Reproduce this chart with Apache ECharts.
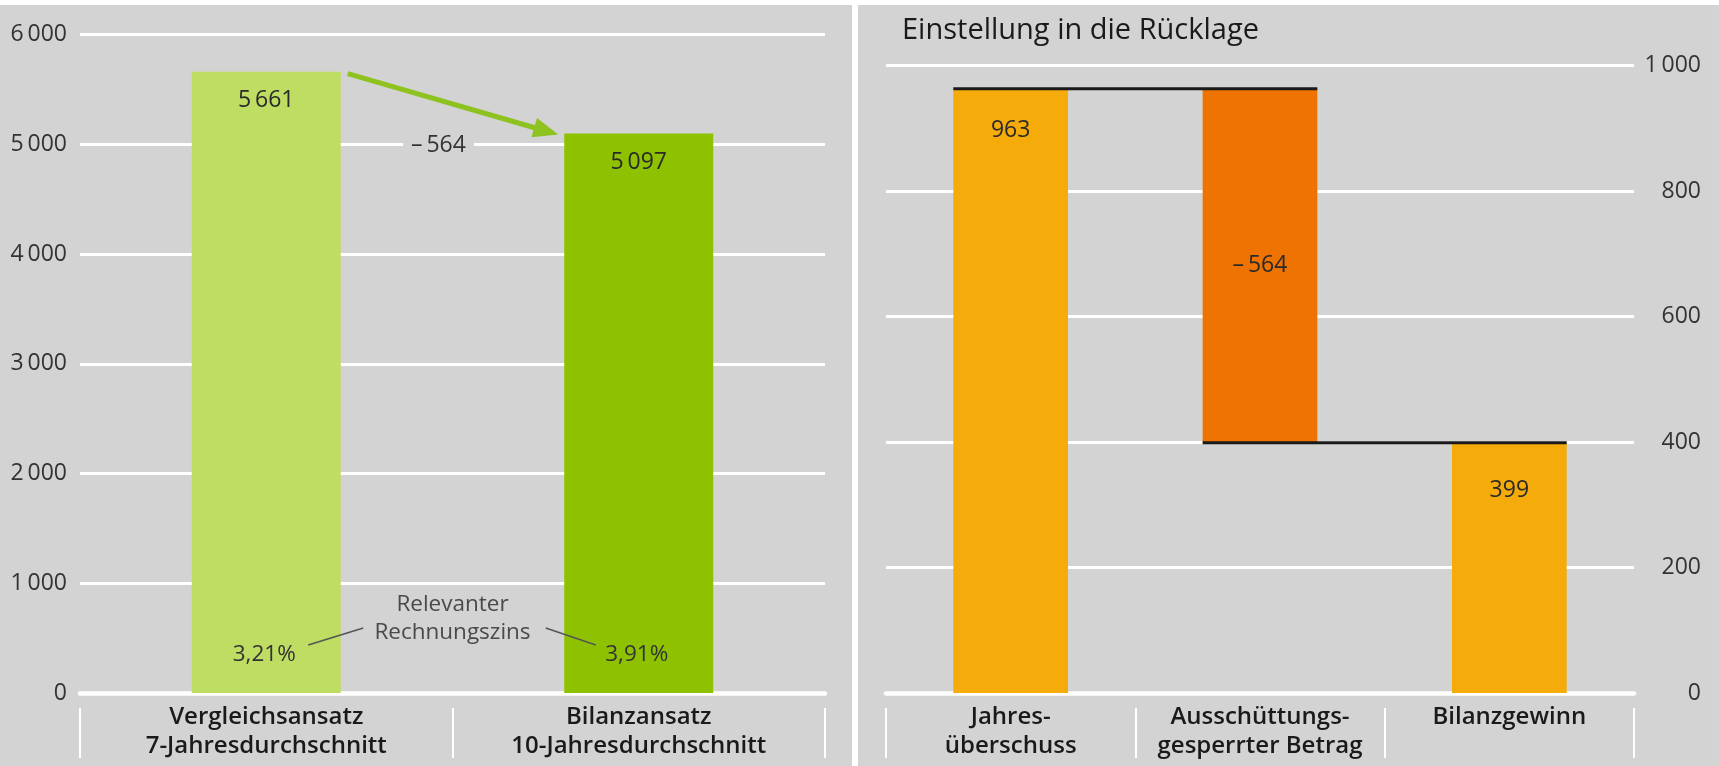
<!DOCTYPE html>
<html>
<head>
<meta charset="utf-8">
<script src="https://cdn.jsdelivr.net/npm/echarts@6/dist/echarts.min.js"></script>
<style>
html,body{margin:0;padding:0;background:#fff;}
#c{width:1719px;height:766px;}
</style>
</head>
<body>
<div id="c"></div>
<script>
// ---- data ----
const leftCategories = ['Vergleichsansatz\n7-Jahresdurchschnitt', 'Bilanzansatz\n10-Jahresdurchschnitt'];
const leftValues = [5661, 5097];
const leftRates = ['3,21%', '3,91%'];
const leftRateNote = ['Relevanter', 'Rechnungszins'];
const leftTicks = [0, 6000, 1000];

const rightTitle = 'Einstellung in die Rücklage';
const rightCategories = ['Jahres-\nüberschuss', 'Ausschüttungs-\ngesperrter Betrag', 'Bilanzgewinn'];
const rightValues = [963, -564, 399];
const rightKinds = ['start', 'delta', 'total'];
const rightTicks = [0, 1000, 200];

// ---- helpers ----
const FONT = 'Open Sans';
const BG = '#d3d3d3';
const fmt = v => String(v).replace(/\B(?=(\d{3})+(?!\d))/g, '\u2009');
const fmtSigned = v => v < 0 ? '\u2013\u2009' + fmt(-v) : fmt(v);

const leftDiff = leftValues[1] - leftValues[0];

// waterfall computation
let running = 0;
const wfBase = [], wfHeight = [], wfLevels = [];
rightValues.forEach((v, i) => {
  if (rightKinds[i] === 'total') {
    wfBase.push(0); wfHeight.push(running);
  } else if (v >= 0) {
    wfBase.push(running); wfHeight.push(v); running += v;
  } else {
    wfBase.push(running + v); wfHeight.push(-v); running += v;
  }
  wfLevels.push(running);
});
const wfColors = rightValues.map((v, i) => rightKinds[i] === 'delta' ? '#ef7300' : '#f5ab0a');

const LBW = 0.40, RBW = 0.46;

const chart = echarts.init(document.getElementById('c'));

const catAxisLabel = {
  fontFamily: FONT, fontSize: 24, fontWeight: 600, color: '#1a1a1a',
  lineHeight: 29, margin: 10, interval: 0
};
const valAxisLabel = { fontFamily: FONT, fontSize: 23, color: '#333' };

const option = {
  backgroundColor: BG,
  animation: false,
  title: {
    text: rightTitle, left: 897, top: 11,
    textStyle: { fontFamily: FONT, fontSize: 29, fontWeight: 'normal', color: '#1a1a1a' }
  },
  graphic: [
    { type: 'rect', shape: { x: 0, y: 0, width: 1719, height: 5 }, style: { fill: '#fff' }, z: 100 },
    { type: 'rect', shape: { x: 852, y: 0, width: 6, height: 766 }, style: { fill: '#fff' }, z: 100 }
  ],
  grid: [
    { left: 80, right: 1719 - 825, top: 34.5, bottom: 73 },
    { left: 886, right: 1719 - 1634, top: 65.5, bottom: 73 }
  ],
  xAxis: [
    { type: 'category', gridIndex: 0, data: leftCategories,
      axisLine: { lineStyle: { color: '#fff', width: 4.5 } },
      axisTick: { show: false }, axisLabel: catAxisLabel },
    { type: 'category', gridIndex: 0, data: leftCategories, position: 'bottom', offset: 15,
      axisLine: { show: false },
      axisTick: { show: true, length: 50, lineStyle: { color: '#fff', width: 2 } },
      axisLabel: { show: false } },
    { type: 'category', gridIndex: 1, data: rightCategories,
      axisLine: { lineStyle: { color: '#fff', width: 4.5 } },
      axisTick: { show: false }, axisLabel: catAxisLabel },
    { type: 'category', gridIndex: 1, data: rightCategories, position: 'bottom', offset: 15,
      axisLine: { show: false },
      axisTick: { show: true, length: 50, lineStyle: { color: '#fff', width: 2 } },
      axisLabel: { show: false } }
  ],
  yAxis: [
    { type: 'value', gridIndex: 0, min: leftTicks[0], max: leftTicks[1], interval: leftTicks[2],
      axisLine: { show: false }, axisTick: { show: false },
      axisLabel: Object.assign({ margin: 13, formatter: v => fmt(v) }, valAxisLabel),
      splitLine: { lineStyle: { color: '#fff', width: 3 } } },
    { type: 'value', gridIndex: 1, position: 'right', min: rightTicks[0], max: rightTicks[1], interval: rightTicks[2],
      axisLine: { show: false }, axisTick: { show: false },
      axisLabel: Object.assign({ margin: 67, align: 'right', formatter: v => fmt(v) }, valAxisLabel),
      splitLine: { lineStyle: { color: '#fff', width: 3 } } }
  ],
  series: [
    // left bars
    { type: 'bar', xAxisIndex: 0, yAxisIndex: 0, barWidth: (LBW * 100) + '%',
      data: leftValues.map((v, i) => ({ value: v, itemStyle: { color: i === 0 ? '#bedd62' : '#8ec200' } })),
      label: { show: true, position: 'insideTop', distance: 17, formatter: p => fmt(p.value),
        fontFamily: FONT, fontSize: 23, color: '#2a2a2a' } },
    // arrow + difference label
    { type: 'custom', xAxisIndex: 0, yAxisIndex: 0, data: [[0, leftValues[0]]], z: 5, silent: true,
      renderItem: (params, api) => {
        const p0 = api.coord([0, leftValues[0]]);
        const p1 = api.coord([1, leftValues[1]]);
        const hb = api.size([1, 0])[0] * LBW / 2;
        const s = [p0[0] + hb + 7, p0[1] + 2];
        const e = [p1[0] - hb - 6, p1[1] + 1];
        const dx = e[0] - s[0], dy = e[1] - s[1], L = Math.hypot(dx, dy);
        const ux = dx / L, uy = dy / L, nx = -uy, ny = ux;
        const hl = 25, hw = 10;
        const b = [e[0] - ux * hl, e[1] - uy * hl];
        const lineEnd = [e[0] - ux * (hl - 4), e[1] - uy * (hl - 4)];
        const midX = (p0[0] + p1[0]) / 2 - 14;
        const gy = api.coord([0, 5000])[1];
        return { type: 'group', children: [
          { type: 'line', shape: { x1: s[0], y1: s[1], x2: lineEnd[0], y2: lineEnd[1] },
            style: { stroke: '#8dc21f', lineWidth: 5 } },
          { type: 'polygon', shape: { points: [e, [b[0] + nx * hw, b[1] + ny * hw], [b[0] - nx * hw, b[1] - ny * hw]] },
            style: { fill: '#8dc21f' } },
          { type: 'text', x: midX, y: gy + 1,
            style: { text: fmtSigned(leftDiff), fontFamily: FONT, fontSize: 23, fill: '#333',
              align: 'center', verticalAlign: 'middle', backgroundColor: BG, padding: [0, 8] } }
        ] };
      } },
    // rate annotations
    { type: 'custom', xAxisIndex: 0, yAxisIndex: 0, data: [[0, 0]], z: 5, silent: true,
      renderItem: (params, api) => {
        const c0 = api.coord([0, 0]);
        const c1 = api.coord([1, 0]);
        const zy = c0[1];
        const mid = (c0[0] + c1[0]) / 2;
        const txt = (t, x, y, col) => ({ type: 'text', x: x, y: y,
          style: { text: t, fontFamily: FONT, fontSize: 22.5, fill: col, align: 'center', verticalAlign: 'middle' } });
        const ln = (x1, y1, x2, y2) => ({ type: 'line', shape: { x1, y1, x2, y2 }, style: { stroke: '#555', lineWidth: 1.5 } });
        return { type: 'group', children: [
          txt(leftRates[0], c0[0] - 2, zy - 38, '#333'),
          txt(leftRates[1], c1[0] - 2, zy - 38, '#333'),
          txt(leftRateNote[0], mid, zy - 88, '#4a4a4a'),
          txt(leftRateNote[1], mid, zy - 60, '#4a4a4a'),
          ln(c0[0] + 42, zy - 48, c0[0] + 97, zy - 65),
          ln(c1[0] - 93, zy - 65, c1[0] - 43, zy - 48)
        ] };
      } },
    // waterfall base (invisible)
    { type: 'bar', xAxisIndex: 2, yAxisIndex: 1, stack: 'wf', barWidth: (RBW * 100) + '%', silent: true,
      itemStyle: { color: 'transparent' }, data: wfBase },
    // waterfall visible
    { type: 'bar', xAxisIndex: 2, yAxisIndex: 1, stack: 'wf', barWidth: (RBW * 100) + '%',
      data: wfHeight.map((h, i) => ({
        value: h, itemStyle: { color: wfColors[i] },
        label: rightKinds[i] === 'delta' ? { position: 'inside' }
             : { position: 'insideTop', distance: rightKinds[i] === 'total' ? 36 : 30 }
      })),
      label: { show: true, distance: 30, formatter: p => fmtSigned(rightValues[p.dataIndex]),
        fontFamily: FONT, fontSize: 23, color: '#2a2a2a' } },
    // connector lines
    { type: 'custom', xAxisIndex: 2, yAxisIndex: 1, z: 5, silent: true,
      data: wfLevels.slice(0, -1).map((lv, i) => [i, lv]),
      renderItem: (params, api) => {
        const i = api.value(0), lv = api.value(1);
        const a = api.coord([i, lv]);
        const b = api.coord([i + 1, lv]);
        const hb = api.size([1, 0])[0] * RBW / 2;
        return { type: 'line', shape: { x1: a[0] - hb, y1: a[1], x2: b[0] + hb, y2: b[1] },
          style: { stroke: '#1a1a1a', lineWidth: 3 } };
      } }
  ]
};
chart.setOption(option);
</script>
</body>
</html>
